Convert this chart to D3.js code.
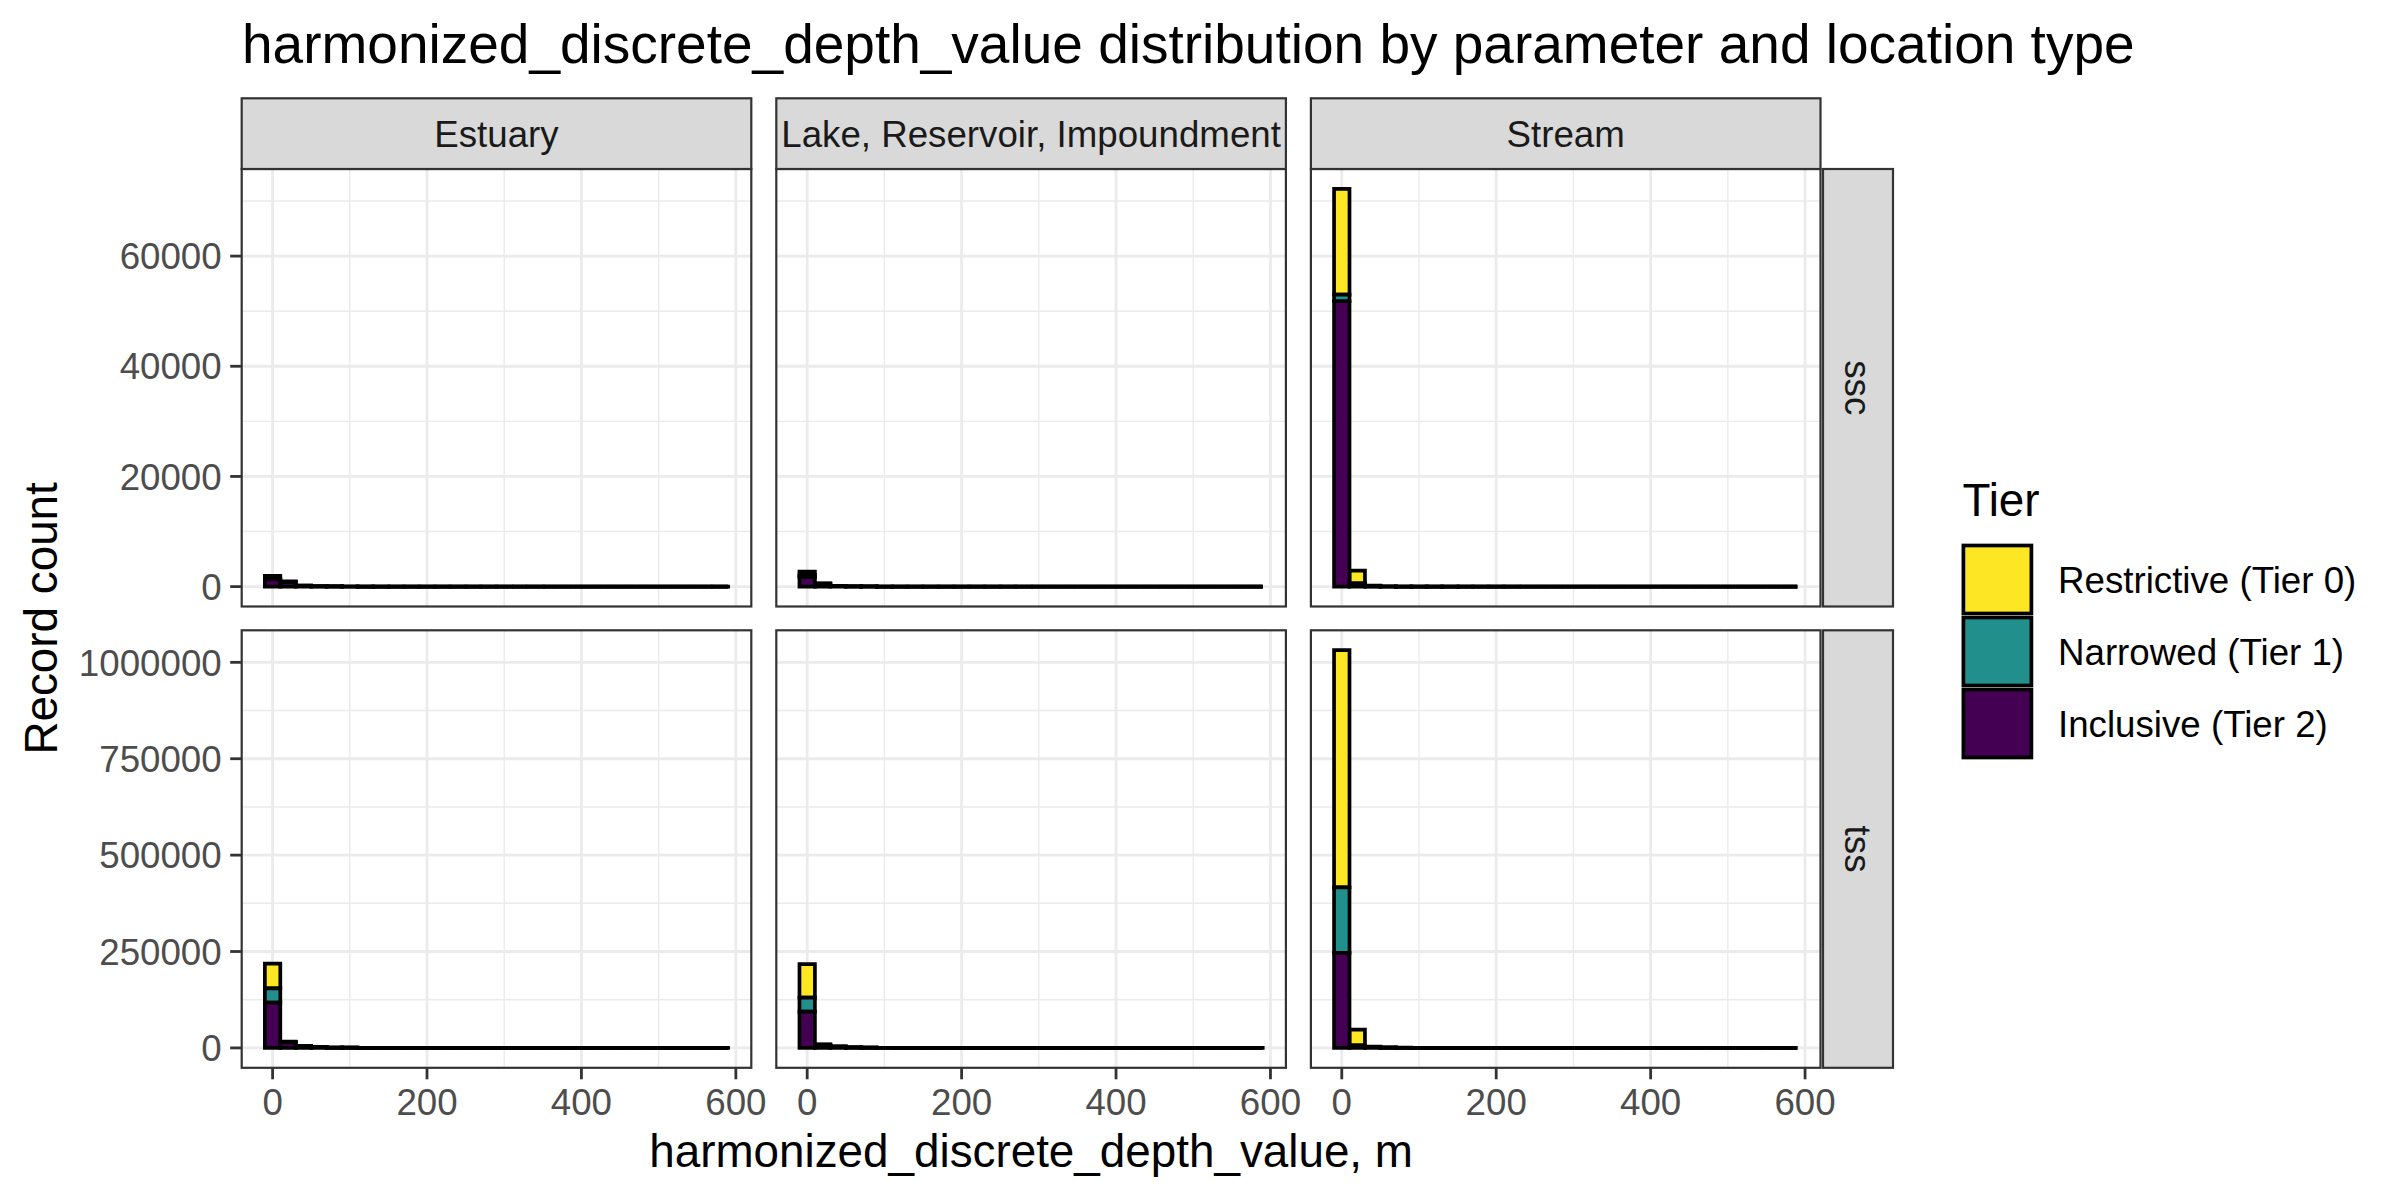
<!DOCTYPE html>
<html>
<head>
<meta charset="utf-8">
<script src="https://cdn.jsdelivr.net/npm/d3@7"></script>
<style>
  html, body { margin: 0; padding: 0; background: #fff; }
  svg { display: block; }
  text { font-family: "Liberation Sans", Arial, Helvetica, sans-serif; }
</style>
</head>
<body>
<div id="chart"></div>
<script>
// Depth histogram, faceted by parameter (rows) and location type (columns)
const locations = ["Estuary", "Lake, Reservoir, Impoundment", "Stream"];
const parameters = ["ssc", "tss"];
const tierKeys = ["inclusive", "narrowed", "restrictive"]; // stacking order, bottom first
const tierLabels = ["Restrictive (Tier 0)", "Narrowed (Tier 1)", "Inclusive (Tier 2)"];
const tierColors = { restrictive: "#FDE725", narrowed: "#21908C", inclusive: "#440154" };
const legendOrder = ["restrictive", "narrowed", "inclusive"];

const binWidth = 20;
const binCenters = [0, 20, 40, 60, 80, 100, 120, 140, 160, 180, 200, 220, 240, 260, 280,
  300, 320, 340, 360, 380, 400, 420, 440, 460, 480, 500, 520, 540, 560, 580];

const xTicks = [0, 200, 400, 600];
const xMinor = [100, 300, 500];
const yTicksSsc = [0, 20000, 40000, 60000];
const yMinorSsc = [10000, 30000, 50000, 70000];
const yTicksTss = [0, 250000, 500000, 750000, 1000000];
const yMinorTss = [125000, 375000, 625000, 875000];

// counts per bin
const sscEstuaryInclusive = [1300, 800, 160, 60, 30, 20, 12, 8, 5, 4, 3, 2, 2, 1, 1, 1, 0, 1, 0, 0, 0, 0, 0, 0, 0, 0, 0, 0, 0, 1];
const sscEstuaryNarrowed = [250, 80, 20, 8, 4, 2, 1, 1, 0, 0, 0, 0, 0, 0, 0, 0, 0, 0, 0, 0, 0, 0, 0, 0, 0, 0, 0, 0, 0, 0];
const sscEstuaryRestrictive = [390, 90, 20, 6, 3, 2, 1, 0, 0, 0, 0, 0, 0, 0, 0, 0, 0, 0, 0, 0, 0, 0, 0, 0, 0, 0, 0, 0, 0, 0];
const sscLakeInclusive = [1700, 500, 120, 50, 25, 15, 10, 6, 4, 3, 2, 2, 1, 1, 1, 0, 0, 0, 0, 0, 0, 0, 0, 0, 0, 0, 0, 0, 0, 0];
const sscLakeNarrowed = [400, 50, 10, 4, 2, 1, 0, 0, 0, 0, 0, 0, 0, 0, 0, 0, 0, 0, 0, 0, 0, 0, 0, 0, 0, 0, 0, 0, 0, 0];
const sscLakeRestrictive = [630, 50, 8, 3, 1, 0, 0, 0, 0, 0, 0, 0, 0, 0, 0, 0, 0, 0, 0, 0, 0, 0, 0, 0, 0, 0, 0, 0, 0, 0];
const sscStreamInclusive = [51800, 450, 60, 20, 10, 6, 4, 3, 2, 1, 1, 1, 0, 0, 0, 0, 0, 0, 0, 0, 0, 0, 0, 0, 0, 0, 0, 0, 0, 0];
const sscStreamNarrowed = [1200, 150, 15, 5, 2, 1, 0, 0, 0, 0, 0, 0, 0, 0, 0, 0, 0, 0, 0, 0, 0, 0, 0, 0, 0, 0, 0, 0, 0, 0];
const sscStreamRestrictive = [19200, 2300, 90, 30, 10, 5, 2, 1, 0, 0, 0, 0, 0, 0, 0, 0, 0, 0, 0, 0, 0, 0, 0, 0, 0, 0, 0, 0, 0, 0];
const tssEstuaryInclusive = [117700, 14000, 4200, 1800, 900, 500, 300, 200, 150, 100, 80, 60, 40, 30, 20, 15, 10, 8, 6, 5, 4, 3, 2, 2, 1, 1, 1, 1, 0, 1];
const tssEstuaryNarrowed = [36700, 1200, 400, 150, 60, 30, 20, 10, 5, 3, 2, 1, 1, 0, 0, 0, 0, 0, 0, 0, 0, 0, 0, 0, 0, 0, 0, 0, 0, 0];
const tssEstuaryRestrictive = [64000, 1000, 400, 120, 50, 20, 10, 5, 3, 2, 1, 1, 0, 0, 0, 0, 0, 0, 0, 0, 0, 0, 0, 0, 0, 0, 0, 0, 0, 0];
const tssLakeInclusive = [94000, 8000, 3400, 1300, 700, 400, 250, 160, 110, 80, 60, 40, 30, 20, 15, 10, 8, 6, 5, 4, 3, 2, 2, 1, 1, 1, 0, 1, 0, 1];
const tssLakeNarrowed = [36500, 800, 300, 100, 40, 20, 10, 5, 3, 2, 1, 1, 0, 0, 0, 0, 0, 0, 0, 0, 0, 0, 0, 0, 0, 0, 0, 0, 0, 0];
const tssLakeRestrictive = [87000, 600, 300, 100, 40, 20, 10, 5, 2, 1, 1, 0, 0, 0, 0, 0, 0, 0, 0, 0, 0, 0, 0, 0, 0, 0, 0, 0, 0, 0];
const tssStreamInclusive = [246500, 5000, 1800, 700, 350, 200, 120, 80, 50, 30, 20, 15, 10, 8, 5, 4, 3, 2, 2, 1, 1, 1, 0, 0, 0, 0, 0, 0, 0, 0];
const tssStreamNarrowed = [170000, 1500, 500, 200, 80, 40, 20, 10, 5, 3, 2, 1, 0, 0, 0, 0, 0, 0, 0, 0, 0, 0, 0, 0, 0, 0, 0, 0, 0, 0];
const tssStreamRestrictive = [615000, 40900, 900, 300, 120, 50, 25, 12, 6, 3, 2, 1, 1, 0, 0, 0, 0, 0, 0, 0, 0, 0, 0, 0, 0, 0, 0, 0, 0, 0];

const facetCounts = {
  ssc: [
    [sscEstuaryInclusive, sscEstuaryNarrowed, sscEstuaryRestrictive],
    [sscLakeInclusive, sscLakeNarrowed, sscLakeRestrictive],
    [sscStreamInclusive, sscStreamNarrowed, sscStreamRestrictive],
  ],
  tss: [
    [tssEstuaryInclusive, tssEstuaryNarrowed, tssEstuaryRestrictive],
    [tssLakeInclusive, tssLakeNarrowed, tssLakeRestrictive],
    [tssStreamInclusive, tssStreamNarrowed, tssStreamRestrictive],
  ],
};
const rowTicks = { ssc: [yTicksSsc, yMinorSsc], tss: [yTicksTss, yMinorTss] };

// layout (px)
const W = 2400, H = 1200;
const plotLeft = 241.7, plotRight = 1820.5, colGap = 25;
const panelW = (plotRight - plotLeft - 2 * colGap) / 3;
const rowTop = [169, 630.3];
const panelH = 437.5;
const stripH = 70.7;
const rowStripX = 1823, rowStripW = 70;
const barStroke = 3.7;

const svg = d3.select("#chart").append("svg")
  .attr("width", W).attr("height", H)
  .attr("viewBox", `0 0 ${W} ${H}`);

svg.append("rect").attr("width", W).attr("height", H).attr("fill", "#fff");

const x = d3.scaleLinear().domain([-10 - 30, 590 + 30]); // 5% expansion of bin range

function buildRows(counts) {
  return binCenters.map((c, i) => ({
    x: c,
    inclusive: counts[0][i],
    narrowed: counts[1][i],
    restrictive: counts[2][i],
  }));
}

const stack = d3.stack().keys(tierKeys);

parameters.forEach((param, r) => {
  const top = rowTop[r];
  const facets = facetCounts[param].map((c) => stack(buildRows(c)));
  const maxTotal = d3.max(facets, (s) => d3.max(s[s.length - 1], (d) => d[1]));
  const y = d3.scaleLinear()
    .domain([-0.05 * maxTotal, 1.05 * maxTotal])
    .range([top + panelH, top]);
  const [majorY, minorY] = rowTicks[param];

  locations.forEach((loc, c) => {
    const left = plotLeft + c * (panelW + colGap);
    const xs = x.copy().range([left, left + panelW]);
    const g = svg.append("g");

    g.append("rect")
      .attr("x", left).attr("y", top).attr("width", panelW).attr("height", panelH)
      .attr("fill", "#fff");

    const clip = `clip-${r}-${c}`;
    g.append("clipPath").attr("id", clip)
      .append("rect").attr("x", left).attr("y", top).attr("width", panelW).attr("height", panelH);
    const inner = g.append("g").attr("clip-path", `url(#${clip})`);

    // grid
    inner.selectAll("line.ymin").data(minorY).enter().append("line")
      .attr("x1", left).attr("x2", left + panelW)
      .attr("y1", (d) => y(d)).attr("y2", (d) => y(d))
      .attr("stroke", "#EBEBEB").attr("stroke-width", 1.4);
    inner.selectAll("line.xmin").data(xMinor).enter().append("line")
      .attr("y1", top).attr("y2", top + panelH)
      .attr("x1", (d) => xs(d)).attr("x2", (d) => xs(d))
      .attr("stroke", "#EBEBEB").attr("stroke-width", 1.4);
    inner.selectAll("line.ymaj").data(majorY).enter().append("line")
      .attr("x1", left).attr("x2", left + panelW)
      .attr("y1", (d) => y(d)).attr("y2", (d) => y(d))
      .attr("stroke", "#EBEBEB").attr("stroke-width", 2.8);
    inner.selectAll("line.xmaj").data(xTicks).enter().append("line")
      .attr("y1", top).attr("y2", top + panelH)
      .attr("x1", (d) => xs(d)).attr("x2", (d) => xs(d))
      .attr("stroke", "#EBEBEB").attr("stroke-width", 2.8);

    // stacked histogram bars (paths so zero-height bins still draw their outline)
    const series = facets[c];
    series.slice().reverse().forEach((layer) => {
      inner.selectAll(null).data(layer).enter().append("path")
        .attr("d", (d) => {
          const x0 = xs(d.data.x - binWidth / 2), x1 = xs(d.data.x + binWidth / 2);
          const y0 = y(d[0]), y1 = y(d[1]);
          return `M${x0},${y0}H${x1}V${y1}H${x0}Z`;
        })
        .attr("fill", tierColors[layer.key])
        .attr("stroke", "#000")
        .attr("stroke-width", barStroke)
        .attr("stroke-linejoin", "miter");
    });

    // border
    g.append("rect")
      .attr("x", left).attr("y", top).attr("width", panelW).attr("height", panelH)
      .attr("fill", "none").attr("stroke", "#333333").attr("stroke-width", 2.2);

    // column strip on the first row
    if (r === 0) {
      g.append("rect")
        .attr("x", left).attr("y", top - stripH).attr("width", panelW).attr("height", stripH)
        .attr("fill", "#D9D9D9").attr("stroke", "#333333").attr("stroke-width", 2.2);
      g.append("text")
        .attr("x", left + panelW / 2).attr("y", top - stripH / 2)
        .attr("dy", "0.36em")
        .attr("text-anchor", "middle")
        .attr("font-size", 36.7).attr("fill", "#1A1A1A")
        .text(loc);
    }

    // x axis on the bottom row
    if (r === parameters.length - 1) {
      const axisY = top + panelH;
      g.selectAll("line.xt").data(xTicks).enter().append("line")
        .attr("x1", (d) => xs(d)).attr("x2", (d) => xs(d))
        .attr("y1", axisY).attr("y2", axisY + 11.5)
        .attr("stroke", "#333333").attr("stroke-width", 2.8);
      g.selectAll("text.xt").data(xTicks).enter().append("text")
        .attr("x", (d) => xs(d)).attr("y", 1115)
        .attr("text-anchor", "middle")
        .attr("font-size", 36.7).attr("fill", "#4D4D4D")
        .text((d) => d);
    }

    // y axis on the first column
    if (c === 0) {
      g.selectAll("line.yt").data(majorY).enter().append("line")
        .attr("x1", left - 11.5).attr("x2", left)
        .attr("y1", (d) => y(d)).attr("y2", (d) => y(d))
        .attr("stroke", "#333333").attr("stroke-width", 2.8);
      g.selectAll("text.yt").data(majorY).enter().append("text")
        .attr("x", left - 20).attr("y", (d) => y(d))
        .attr("dy", "0.36em")
        .attr("text-anchor", "end")
        .attr("font-size", 36.7).attr("fill", "#4D4D4D")
        .text((d) => d);
    }
  });

  // row strip
  svg.append("rect")
    .attr("x", rowStripX).attr("y", top).attr("width", rowStripW).attr("height", panelH)
    .attr("fill", "#D9D9D9").attr("stroke", "#333333").attr("stroke-width", 2.2);
  svg.append("text")
    .attr("transform", `translate(${rowStripX + rowStripW / 2},${top + panelH / 2}) rotate(90)`)
    .attr("dy", "0.36em")
    .attr("text-anchor", "middle")
    .attr("font-size", 36.7).attr("fill", "#1A1A1A")
    .text(param);
});

// titles
svg.append("text")
  .attr("x", 242).attr("y", 63)
  .attr("font-size", 55).attr("fill", "#000")
  .text("harmonized_discrete_depth_value distribution by parameter and location type");

svg.append("text")
  .attr("x", (plotLeft + plotRight) / 2).attr("y", 1166.7)
  .attr("text-anchor", "middle")
  .attr("font-size", 45.8).attr("fill", "#000")
  .text("harmonized_discrete_depth_value, m");

svg.append("text")
  .attr("transform", `translate(57,${rowTop[0] + (rowTop[1] + panelH - rowTop[0]) / 2}) rotate(-90)`)
  .attr("text-anchor", "middle")
  .attr("font-size", 45.8).attr("fill", "#000")
  .text("Record count");

// legend
const legend = svg.append("g");
legend.append("text")
  .attr("x", 1962.4).attr("y", 515.5)
  .attr("font-size", 45.8).attr("fill", "#000")
  .text("Tier");

const keyTop = 543.5, keySize = 72;
legendOrder.forEach((k, i) => {
  const ky = keyTop + i * keySize;
  legend.append("rect")
    .attr("x", 1961.4).attr("y", ky).attr("width", keySize).attr("height", keySize)
    .attr("fill", "#fff");
  legend.append("rect")
    .attr("x", 1961.4 + 2).attr("y", ky + 2)
    .attr("width", keySize - 4).attr("height", keySize - 4)
    .attr("fill", tierColors[k]).attr("stroke", "#000").attr("stroke-width", barStroke);
  legend.append("text")
    .attr("x", 2058).attr("y", ky + keySize / 2)
    .attr("dy", "0.36em")
    .attr("font-size", 36.7).attr("fill", "#000")
    .text(tierLabels[i]);
});
</script>
</body>
</html>
